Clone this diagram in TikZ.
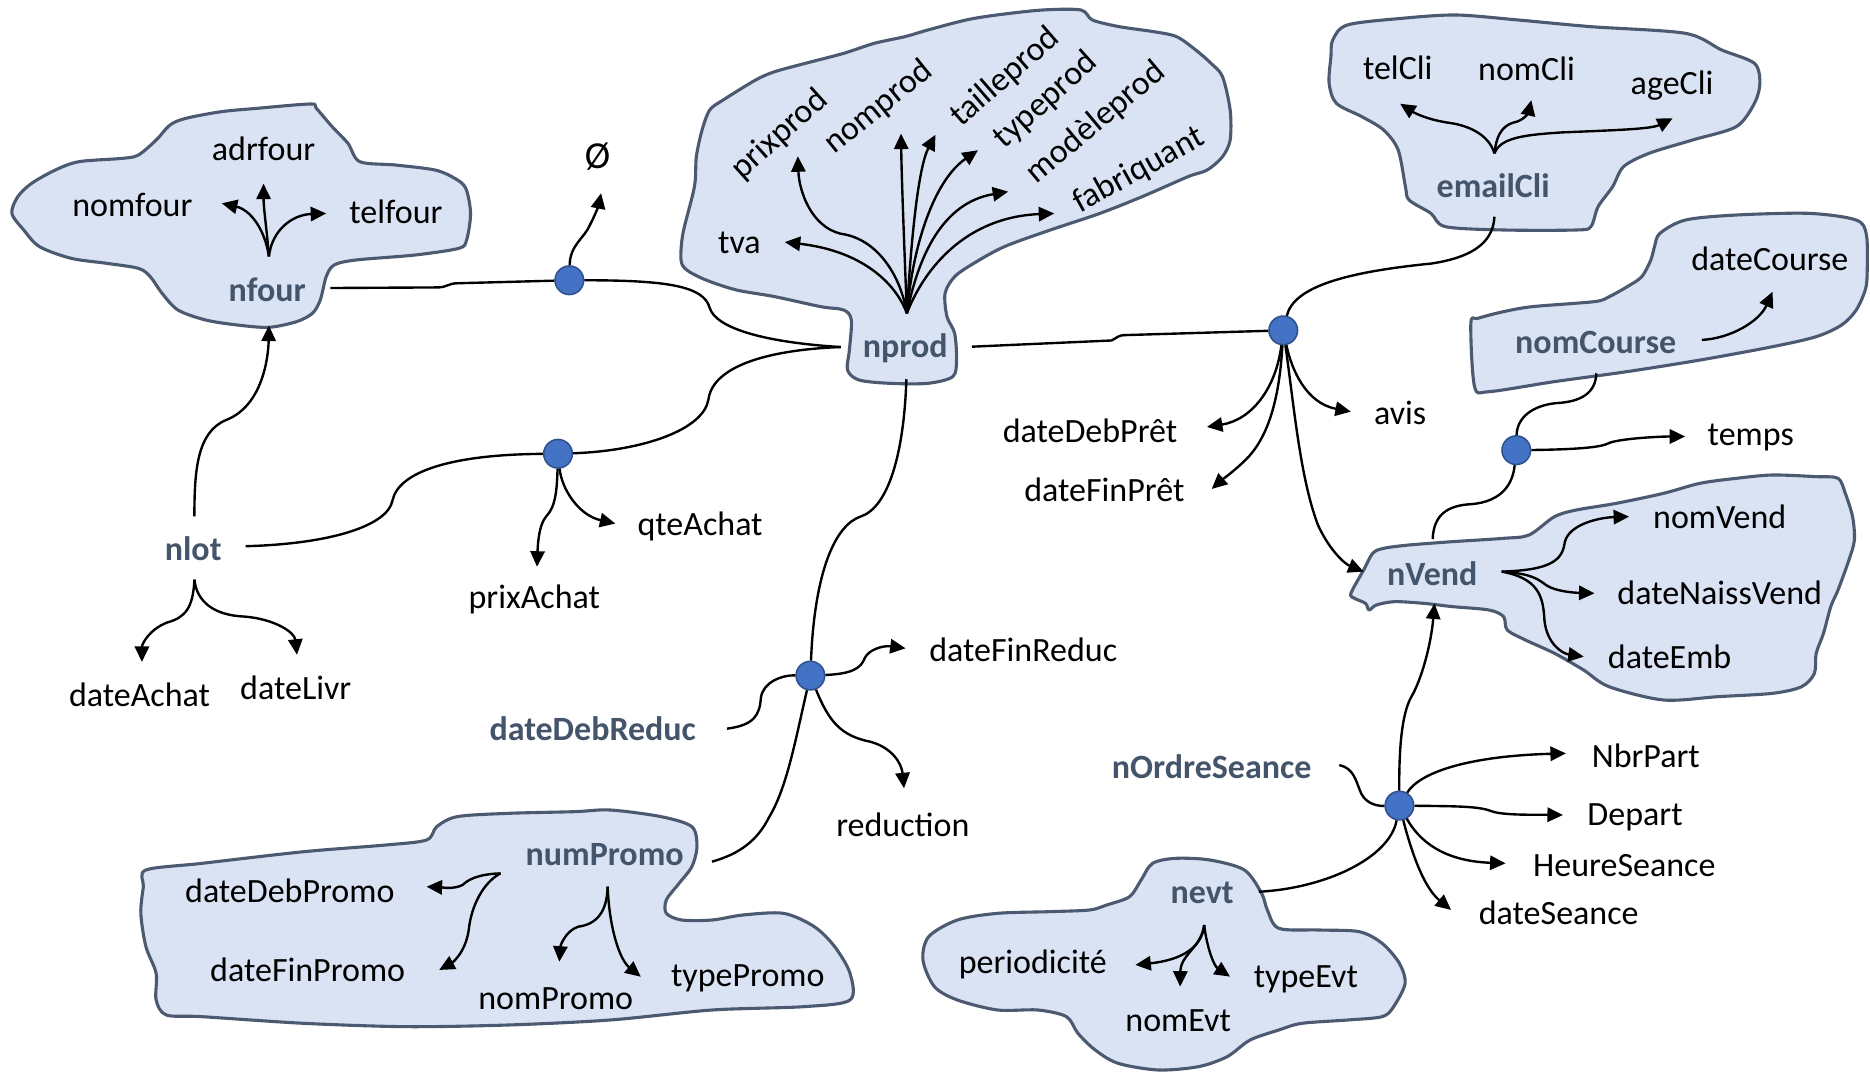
\documentclass[tikz,border=0pt]{standalone}
\usepackage{fontspec}
\setmainfont{Carlito}
\usetikzlibrary{arrows.meta}
\definecolor{blobfill}{HTML}{DAE3F3}
\definecolor{blobline}{HTML}{4B5A70}
\definecolor{keycol}{HTML}{44546A}
\definecolor{dotfill}{HTML}{4472C4}
\definecolor{dotline}{HTML}{2F528F}
\begin{document}
\begin{tikzpicture}[x=1pt,y=-1pt,
  blob/.style={fill=blobfill,draw=blobline,line width=2.6pt,line join=round},
  att/.style={inner sep=0pt,font=\fontsize{28.5}{34}\selectfont},
  key/.style={inner sep=0pt,font=\fontsize{28.5}{34}\selectfont\bfseries,text=keycol},
  dot/.style={circle,fill=dotfill,draw=dotline,line width=1.3pt,minimum width=24pt,inner sep=0pt},
  con/.style={line width=2pt},
  arr/.style={con,-{Triangle[length=13pt,width=12pt]}},
]
\fill[white] (0,0) rectangle (1568,901);
\useasboundingbox (0,0) rectangle (1568,901);

% ---------------- blobs ----------------
\begin{scope}[shift={(0,75.47)},xscale=0.33156,yscale=0.2795]
\draw[blob] plot[smooth cycle,tension=0.5] coordinates {(30,370) (45,320) (80,280) (140,240) (200,215) (310,205) (350,195) (395,150) (430,105) (470,85) (560,65) (650,55) (785,42) (800,55) (840,110) (880,160) (910,215) (1000,225) (1100,240) (1150,265) (1178,295) (1190,370) (1180,450) (1160,475) (1050,495) (900,510) (845,525) (825,560) (810,630) (790,670) (750,695) (680,712) (600,705) (520,690) (450,660) (410,610) (380,560) (350,535) (270,520) (180,505) (100,470) (60,420)};
\end{scope}
\begin{scope}[shift={(553.4,0)},xscale=0.32086,yscale=0.2795]
\draw[blob] plot[smooth cycle,tension=0.5] coordinates {(55,780) (60,700) (90,560) (95,470) (110,390) (130,330) (165,300) (250,240) (300,215) (380,190) (480,160) (560,130) (640,110) (700,90) (800,60) (880,45) (1000,30) (1100,30) (1130,60) (1200,80) (1290,95) (1350,110) (1400,150) (1440,190) (1470,230) (1490,330) (1490,420) (1470,470) (1430,510) (1380,530) (1260,590) (1150,640) (1020,690) (900,740) (820,790) (770,830) (745,880) (750,950) (770,1000) (775,1080) (765,1130) (700,1150) (600,1150) (520,1140) (490,1110) (495,1050) (500,960) (480,930) (420,920) (300,890) (200,870) (120,840) (70,810)};
\end{scope}
\begin{scope}[shift={(1090.06,0)},xscale=0.30481,yscale=0.2795]
\draw[blob] plot[smooth cycle,tension=0.5] coordinates {(85,170) (90,120) (130,75) (280,55) (430,45) (600,60) (800,80) (1060,100) (1160,150) (1250,190) (1265,250) (1250,310) (1200,380) (1080,420) (960,460) (890,500) (860,560) (820,620) (800,680) (760,690) (560,690) (400,680) (360,640) (300,600) (290,560) (270,450) (230,390) (170,350) (100,310) (80,250)};
\end{scope}
\draw[blob] plot[smooth cycle,tension=0.5] coordinates {(1236.4,324.2) (1233.3,271.1) (1239.4,266.9) (1260.8,261.3) (1285.1,257.1) (1337.0,252.9) (1349.2,248.8) (1364.4,240.4) (1376.6,232.0) (1384.2,218.0) (1387.3,206.8) (1391.8,195.7) (1413.2,184.5) (1455.8,180.3) (1516.8,178.9) (1556.4,184.5) (1565,197) (1565.6,229.2) (1564.0,243.2) (1556.4,260.0) (1544.2,272.5) (1522.9,282.3) (1486.3,290.7) (1425.4,301.9) (1364.4,311.6) (1303.4,320.0) (1248.6,328.4)};
\begin{scope}[shift={(1090.06,201.24)},xscale=0.30481,yscale=0.2795]
\draw[blob] plot[smooth cycle,tension=0.5] coordinates {(140,1060) (175,990) (200,940) (230,925) (300,915) (420,905) (560,895) (630,885) (700,830) (760,810) (870,790) (1000,760) (1100,730) (1200,715) (1300,705) (1420,710) (1480,715) (1500,760) (1520,830) (1525,900) (1510,960) (1480,1050) (1460,1100) (1440,1180) (1420,1240) (1415,1300) (1380,1340) (1300,1360) (1150,1370) (1000,1380) (850,1340) (780,1290) (700,1240) (620,1200) (570,1170) (560,1130) (520,1110) (420,1100) (340,1090) (260,1085) (210,1095) (190,1110) (180,1090) (150,1075)};
\end{scope}
\begin{scope}[shift={(83.85,654.03)},xscale=0.42781,yscale=0.2795]
\draw[blob] plot[smooth cycle,tension=0.5] coordinates {(85,320) (90,270) (200,250) (400,215) (560,195) (640,180) (660,140) (700,110) (800,100) (930,95) (1000,90) (1100,110) (1160,140) (1170,200) (1160,260) (1135,310) (1110,360) (1110,400) (1140,420) (1200,420) (1260,405) (1340,400) (1400,440) (1440,500) (1470,580) (1470,660) (1380,680) (1200,690) (1000,720) (800,735) (600,740) (400,730) (200,710) (130,705) (110,660) (110,580) (90,500) (80,400)};
\end{scope}
\begin{scope}[shift={(754.65,603.72)},xscale=0.48129,yscale=0.2795]
\draw[blob] plot[smooth cycle,tension=0.5] coordinates {(420,480) (440,430) (480,415) (540,420) (600,450) (630,520) (640,570) (660,625) (730,630) (800,635) (840,670) (870,730) (880,790) (860,860) (840,890) (780,900) (700,910) (660,930) (610,960) (570,1010) (520,1040) (450,1050) (380,1030) (340,990) (310,940) (290,890) (240,870) (170,870) (100,840) (60,800) (40,720) (50,650) (100,600) (170,580) (260,575) (330,570) (360,555) (400,530)};
\end{scope}

% ---------------- key labels ----------------
\node[key] (nfour) at (224,243) {nfour};
\node[key] (nprod) at (759,292) {nprod};
\node[key] (emailCli) at (1252,156) {emailCli};
\node[key] (nomCourse) at (1338,287) {nomCourse};
\node[key] (nVend) at (1201,481) {nVend};
\node[key] (nlot) at (162,460) {nlot};
\node[key] (dateDebReduc) at (497,611) {dateDebReduc};
\node[key] (numPromo) at (507,717) {numPromo};
\node[key] (nOrdreSeance) at (1016,643) {nOrdreSeance};
\node[key] (nevt) at (1008,749) {nevt};

% ---------------- attribute labels ----------------
\node[att] (nomfour) at (111,172) {nomfour};
\node[att] (adrfour) at (221,125) {adrfour};
\node[att] (telfour) at (332,178) {telfour};
\node[att,font=\fontsize{32}{36}\selectfont] (empty) at (501,131) {Ø};
\node[att] (tva) at (620,204) {tva};
\node[att,rotate=42] (prixprod) at (654,113) {prixprod};
\node[att,rotate=39] (nomprod) at (737,90) {nomprod};
\node[att,rotate=41] (tailleprod) at (843,65) {tailleprod};
\node[att,rotate=42] (typeprod) at (877,84) {typeprod};
\node[att,rotate=40] (modeleprod) at (919,103) {modèleprod};
\node[att,rotate=29] (fabriquant) at (955,143) {fabriquant};
\node[att] (telCli) at (1172,57) {telCli};
\node[att] (nomCli) at (1280,58) {nomCli};
\node[att] (ageCli) at (1402,72) {ageCli};
\node[att] (dateCourse) at (1484,217) {dateCourse};
\node[att] (avis) at (1174,346) {avis};
\node[att] (dateDebPret) at (914,361) {dateDebPrêt};
\node[att] (dateFinPret) at (926,411) {dateFinPrêt};
\node[att] (temps) at (1468,367) {temps};
\node[att] (nomVend) at (1442,433) {nomVend};
\node[att] (dateNaissVend) at (1442,497) {dateNaissVend};
\node[att] (dateEmb) at (1400,551) {dateEmb};
\node[att] (qteAchat) at (587,441) {qteAchat};
\node[att] (prixAchat) at (448,503) {prixAchat};
\node[att] (dateAchat) at (117,583) {dateAchat};
\node[att] (dateLivr) at (248,577) {dateLivr};
\node[att] (dateFinReduc) at (858,545) {dateFinReduc};
\node[att] (reduction) at (757,692) {reduction};
\node[att] (dateDebPromo) at (243,747) {dateDebPromo};
\node[att] (dateFinPromo) at (258,813) {dateFinPromo};
\node[att] (nomPromo) at (466,837) {nomPromo};
\node[att] (typePromo) at (627,820) {typePromo};
\node[att] (NbrPart) at (1380,634) {NbrPart};
\node[att] (Depart) at (1371,685) {Depart};
\node[att] (HeureSeance) at (1362,726) {HeureSeance};
\node[att] (dateSeance) at (1307,765) {dateSeance};
\node[att] (periodicite) at (866,809) {periodicité};
\node[att] (nomEvt) at (988,856) {nomEvt};
\node[att] (typeEvt) at (1095,821) {typeEvt};

% ---------------- connector end points ----------------
\coordinate (nfourR) at (277,241.5);
\coordinate (nfourT) at (225.5,215);
\coordinate (nprodW) at (705,291);
\coordinate (nprodE) at (815,290.7);
\coordinate (nprodS) at (760,318);
\coordinate (nprodT) at (760.4,262.7);
\coordinate (nlotN) at (163,433);
\coordinate (nlotE) at (206,458);
\coordinate (nlotS) at (163,486);
\coordinate (ddrE) at (609.6,611);
\coordinate (npE) at (597,722.5);
\coordinate (npL) at (419.7,732.3);
\coordinate (npB) at (509.5,743.5);
\coordinate (nosE) at (1123,641.5);
\coordinate (nevtE) at (1055.5,747.7);
\coordinate (nevtB) at (1009.7,775.6);
\coordinate (ecT) at (1253.1,128.6);
\coordinate (ecB) at (1253.1,181.7);
\coordinate (ncE) at (1427,285);
\coordinate (ncB) at (1338.5,313);
\coordinate (nvE) at (1259.2,479.3);
\coordinate (nvT) at (1201.3,452);
% arrow tips
\coordinate (tAdrfour) at (221,154);
\coordinate (tNomfour) at (186,170.5);
\coordinate (tTelfour) at (273.5,179);
\coordinate (tEmpty) at (504,162);
\coordinate (tTva) at (658,203);
\coordinate (tPrixprod) at (669,131);
\coordinate (tNomprod) at (755.5,112);
\coordinate (tTailleprod) at (784.4,113);
\coordinate (tTypeprod) at (820,126);
\coordinate (tModeleprod) at (845.4,160.7);
\coordinate (tFabriquant) at (884,179);
\coordinate (tTelCli) at (1174,87);
\coordinate (tNomCli) at (1284,84);
\coordinate (tAgeCli) at (1402.5,99.2);
\coordinate (tDateCourse) at (1486.3,244.6);
\coordinate (tAvis) at (1132.7,345.2);
\coordinate (tDateDebPret) at (1012,358);
\coordinate (tDateFinPret) at (1016,410);
\coordinate (tNVend) at (1143.4,479.3);
\coordinate (tTemps) at (1413,366);
\coordinate (tNomVend) at (1366,433.2);
\coordinate (tDateNaissVend) at (1337,497.5);
\coordinate (tDateEmb) at (1328,550.6);
\coordinate (tNfour) at (225.5,273);
\coordinate (tQteAchat) at (516,439);
\coordinate (tPrixAchat) at (450.3,475.2);
\coordinate (tDateAchat) at (119,555);
\coordinate (tDateLivr) at (249,549);
\coordinate (tDateFinReduc) at (759.4,543.6);
\coordinate (tReduction) at (758,661);
\coordinate (tDateDebPromo) at (357.7,743.5);
\coordinate (tDateFinPromo) at (368.3,813.3);
\coordinate (tNomPromo) at (469,806.4);
\coordinate (tTypePromo) at (537.3,819);
\coordinate (tNbrPart) at (1313,631.7);
\coordinate (tDepart) at (1310.5,683.4);
\coordinate (tHeureSeance) at (1262.4,723.9);
\coordinate (tDateSeance) at (1216.7,763);
\coordinate (tNVendB) at (1202.8,506);
\coordinate (tPeriodicite) at (952,809.1);
\coordinate (tNomEvt) at (989.5,827.3);
\coordinate (tTypeEvt) at (1031.4,818.9);

% ---------------- dots ----------------
\node[dot] (d1) at (477.4,235) {};
\node[dot] (d2) at (1076,277) {};
\node[dot] (d3) at (1271.4,377.5) {};
\node[dot] (d4) at (467.9,380.5) {};
\node[dot] (d5) at (679.5,566.5) {};
\node[dot] (d6) at (1173.4,675.5) {};

% ---------------- connectors ----------------
% nfour
\draw[arr] (nfourT) .. controls (224,195) and (221,175) .. (tAdrfour);
\draw[arr] (nfourT) .. controls (222,192) and (210,176) .. (tNomfour);
\draw[arr] (nfourT) .. controls (228,193) and (245,180) .. (tTelfour);
\draw[con] (nfourR) -- (368,241) .. controls (374,241) and (376,237.5) .. (384,237.5) -- (d1);
\draw[arr] (d1) .. controls (478,205) and (490,200) .. (495,188) .. controls (500,178) and (502,172) .. (tEmpty);
\draw[con] (d1) .. controls (560,235) and (590,240) .. (595,258) .. controls (600,275) and (640,287) .. (nprodW);
% nprod attributes
\draw[arr] (nprodT) .. controls (750,235) and (720,210) .. (tTva);
\draw[arr] (nprodT) .. controls (755,230) and (735,200) .. (705,196) .. controls (680,190) and (670,160) .. (tPrixprod);
\draw[arr] (nprodT) .. controls (758,200) and (756,150) .. (tNomprod);
\draw[arr] (nprodT) .. controls (764,200) and (770,140) .. (tTailleprod);
\draw[arr] (nprodT) .. controls (766,200) and (785,150) .. (tTypeprod);
\draw[arr] (nprodT) .. controls (770,215) and (790,170) .. (tModeleprod);
\draw[arr] (nprodT) .. controls (775,225) and (810,182) .. (tFabriquant);
% nprod -> d2 and emailCli
\draw[con] (nprodE) -- (932,285.5) .. controls (937,283) and (938,281) .. (943,281) -- (d2);
\draw[arr] (ecT) .. controls (1248,112) and (1230,105) .. (1215,103) .. controls (1195,100) and (1185,94) .. (tTelCli);
\draw[arr] (ecT) .. controls (1255,110) and (1262,104) .. (1272,102) .. controls (1280,99) and (1282,93) .. (tNomCli);
\draw[arr] (ecT) .. controls (1258,115) and (1280,113) .. (1310,111) .. controls (1360,109) and (1385,108) .. (tAgeCli);
\draw[con] (ecB) .. controls (1252,200) and (1240,215) .. (1200,221) .. controls (1130,228) and (1085,240) .. (d2);
\draw[arr] (d2) .. controls (1083,310) and (1095,338) .. (tAvis);
\draw[arr] (d2) .. controls (1070,325) and (1050,352) .. (tDateDebPret);
\draw[arr] (d2) .. controls (1073,330) and (1065,365) .. (1045,385) .. controls (1035,395) and (1025,402) .. (tDateFinPret);
\draw[arr] (d2) .. controls (1085,340) and (1090,400) .. (1105,440) .. controls (1115,462) and (1128,473) .. (tNVend);
% nomCourse, d3
\draw[arr] (ncE) .. controls (1450,284) and (1475,270) .. (tDateCourse);
\draw[con] (ncB) .. controls (1338,330) and (1325,337) .. (1305,338) .. controls (1285,340) and (1272,350) .. (d3);
\draw[con] (d3) .. controls (1268,410) and (1255,422) .. (1230,423) .. controls (1210,425) and (1202,435) .. (nvT);
\draw[arr] (d3) .. controls (1310,377) and (1340,376) .. (1348,372) .. controls (1355,368) and (1390,366) .. (tTemps);
% nVend attributes
\draw[arr] (nvE) .. controls (1300,478) and (1310,470) .. (1312,455) .. controls (1315,440) and (1340,434) .. (tNomVend);
\draw[arr] (nvE) .. controls (1285,481) and (1290,486) .. (1297,491) .. controls (1305,496) and (1320,497) .. (tDateNaissVend);
\draw[arr] (nvE) .. controls (1290,485) and (1294,500) .. (1295,520) .. controls (1297,540) and (1310,548) .. (tDateEmb);
% nlot
\draw[arr] (nlotN) .. controls (163,395) and (165,362) .. (190,352) .. controls (220,340) and (225,300) .. (tNfour);
\draw[con] (nlotE) .. controls (280,456) and (325,440) .. (329,420) .. controls (334,395) and (380,381) .. (d4);
\draw[con] (d4) .. controls (540,378) and (590,360) .. (594,335) .. controls (598,305) and (650,293) .. (nprodW);
\draw[arr] (d4) .. controls (471,410) and (485,432) .. (tQteAchat);
\draw[arr] (d4) .. controls (467,410) and (466,425) .. (458,433) .. controls (452,440) and (451,455) .. (tPrixAchat);
\draw[arr] (nlotS) .. controls (162,510) and (155,518) .. (140,522) .. controls (125,528) and (119,540) .. (tDateAchat);
\draw[arr] (nlotS) .. controls (165,505) and (180,516) .. (205,517) .. controls (230,519) and (247,530) .. (tDateLivr);
% nprod -> d5 -> numPromo
\draw[con] (nprodS) .. controls (758,380) and (745,425) .. (722,433) .. controls (700,440) and (683,480) .. (d5);
\draw[arr] (d5) .. controls (715,565) and (722,560) .. (725,552) .. controls (728,545) and (740,541) .. (tDateFinReduc);
\draw[con] (ddrE) .. controls (632,608) and (637,600) .. (638,585) .. controls (640,572) and (655,566) .. (d5);
\draw[arr] (d5) .. controls (695,605) and (705,617) .. (730,622) .. controls (748,627) and (756,640) .. (tReduction);
\draw[con] (d5) .. controls (667,620) and (660,660) .. (645,685) .. controls (635,705) and (620,716) .. (npE);
% numPromo attributes
\draw[arr] (npL) .. controls (400,733) and (392,738) .. (388,742) .. controls (380,746) and (370,744) .. (tDateDebPromo);
\draw[arr] (npL) .. controls (405,740) and (395,760) .. (393,780) .. controls (390,800) and (378,808) .. (tDateFinPromo);
\draw[arr] (npB) .. controls (509,765) and (500,775) .. (485,777) .. controls (475,780) and (470,792) .. (tNomPromo);
\draw[arr] (npB) .. controls (511,780) and (520,805) .. (tTypePromo);
% d6
\draw[con] (nosE) .. controls (1135,644) and (1137,655) .. (1140,662) .. controls (1143,672) and (1152,676) .. (d6);
\draw[arr] (d6) .. controls (1173,630) and (1175,600) .. (1183,585) .. controls (1192,570) and (1200,540) .. (tNVendB);
\draw[arr] (d6) .. controls (1190,648) and (1230,634) .. (tNbrPart);
\draw[arr] (d6) .. controls (1220,676) and (1240,676) .. (1250,680) .. controls (1260,684) and (1290,683) .. (tDepart);
\draw[arr] (d6) .. controls (1190,705) and (1210,722) .. (tHeureSeance);
\draw[arr] (d6) .. controls (1185,720) and (1195,745) .. (tDateSeance);
\draw[con] (nevtE) .. controls (1110,745) and (1165,720) .. (d6);
% nevt attributes
\draw[arr] (nevtB) .. controls (1008,795) and (990,805) .. (tPeriodicite);
\draw[arr] (nevtB) .. controls (1007,795) and (990,800) .. (tNomEvt);
\draw[arr] (nevtB) .. controls (1012,795) and (1018,810) .. (tTypeEvt);
\end{tikzpicture}
\end{document}
